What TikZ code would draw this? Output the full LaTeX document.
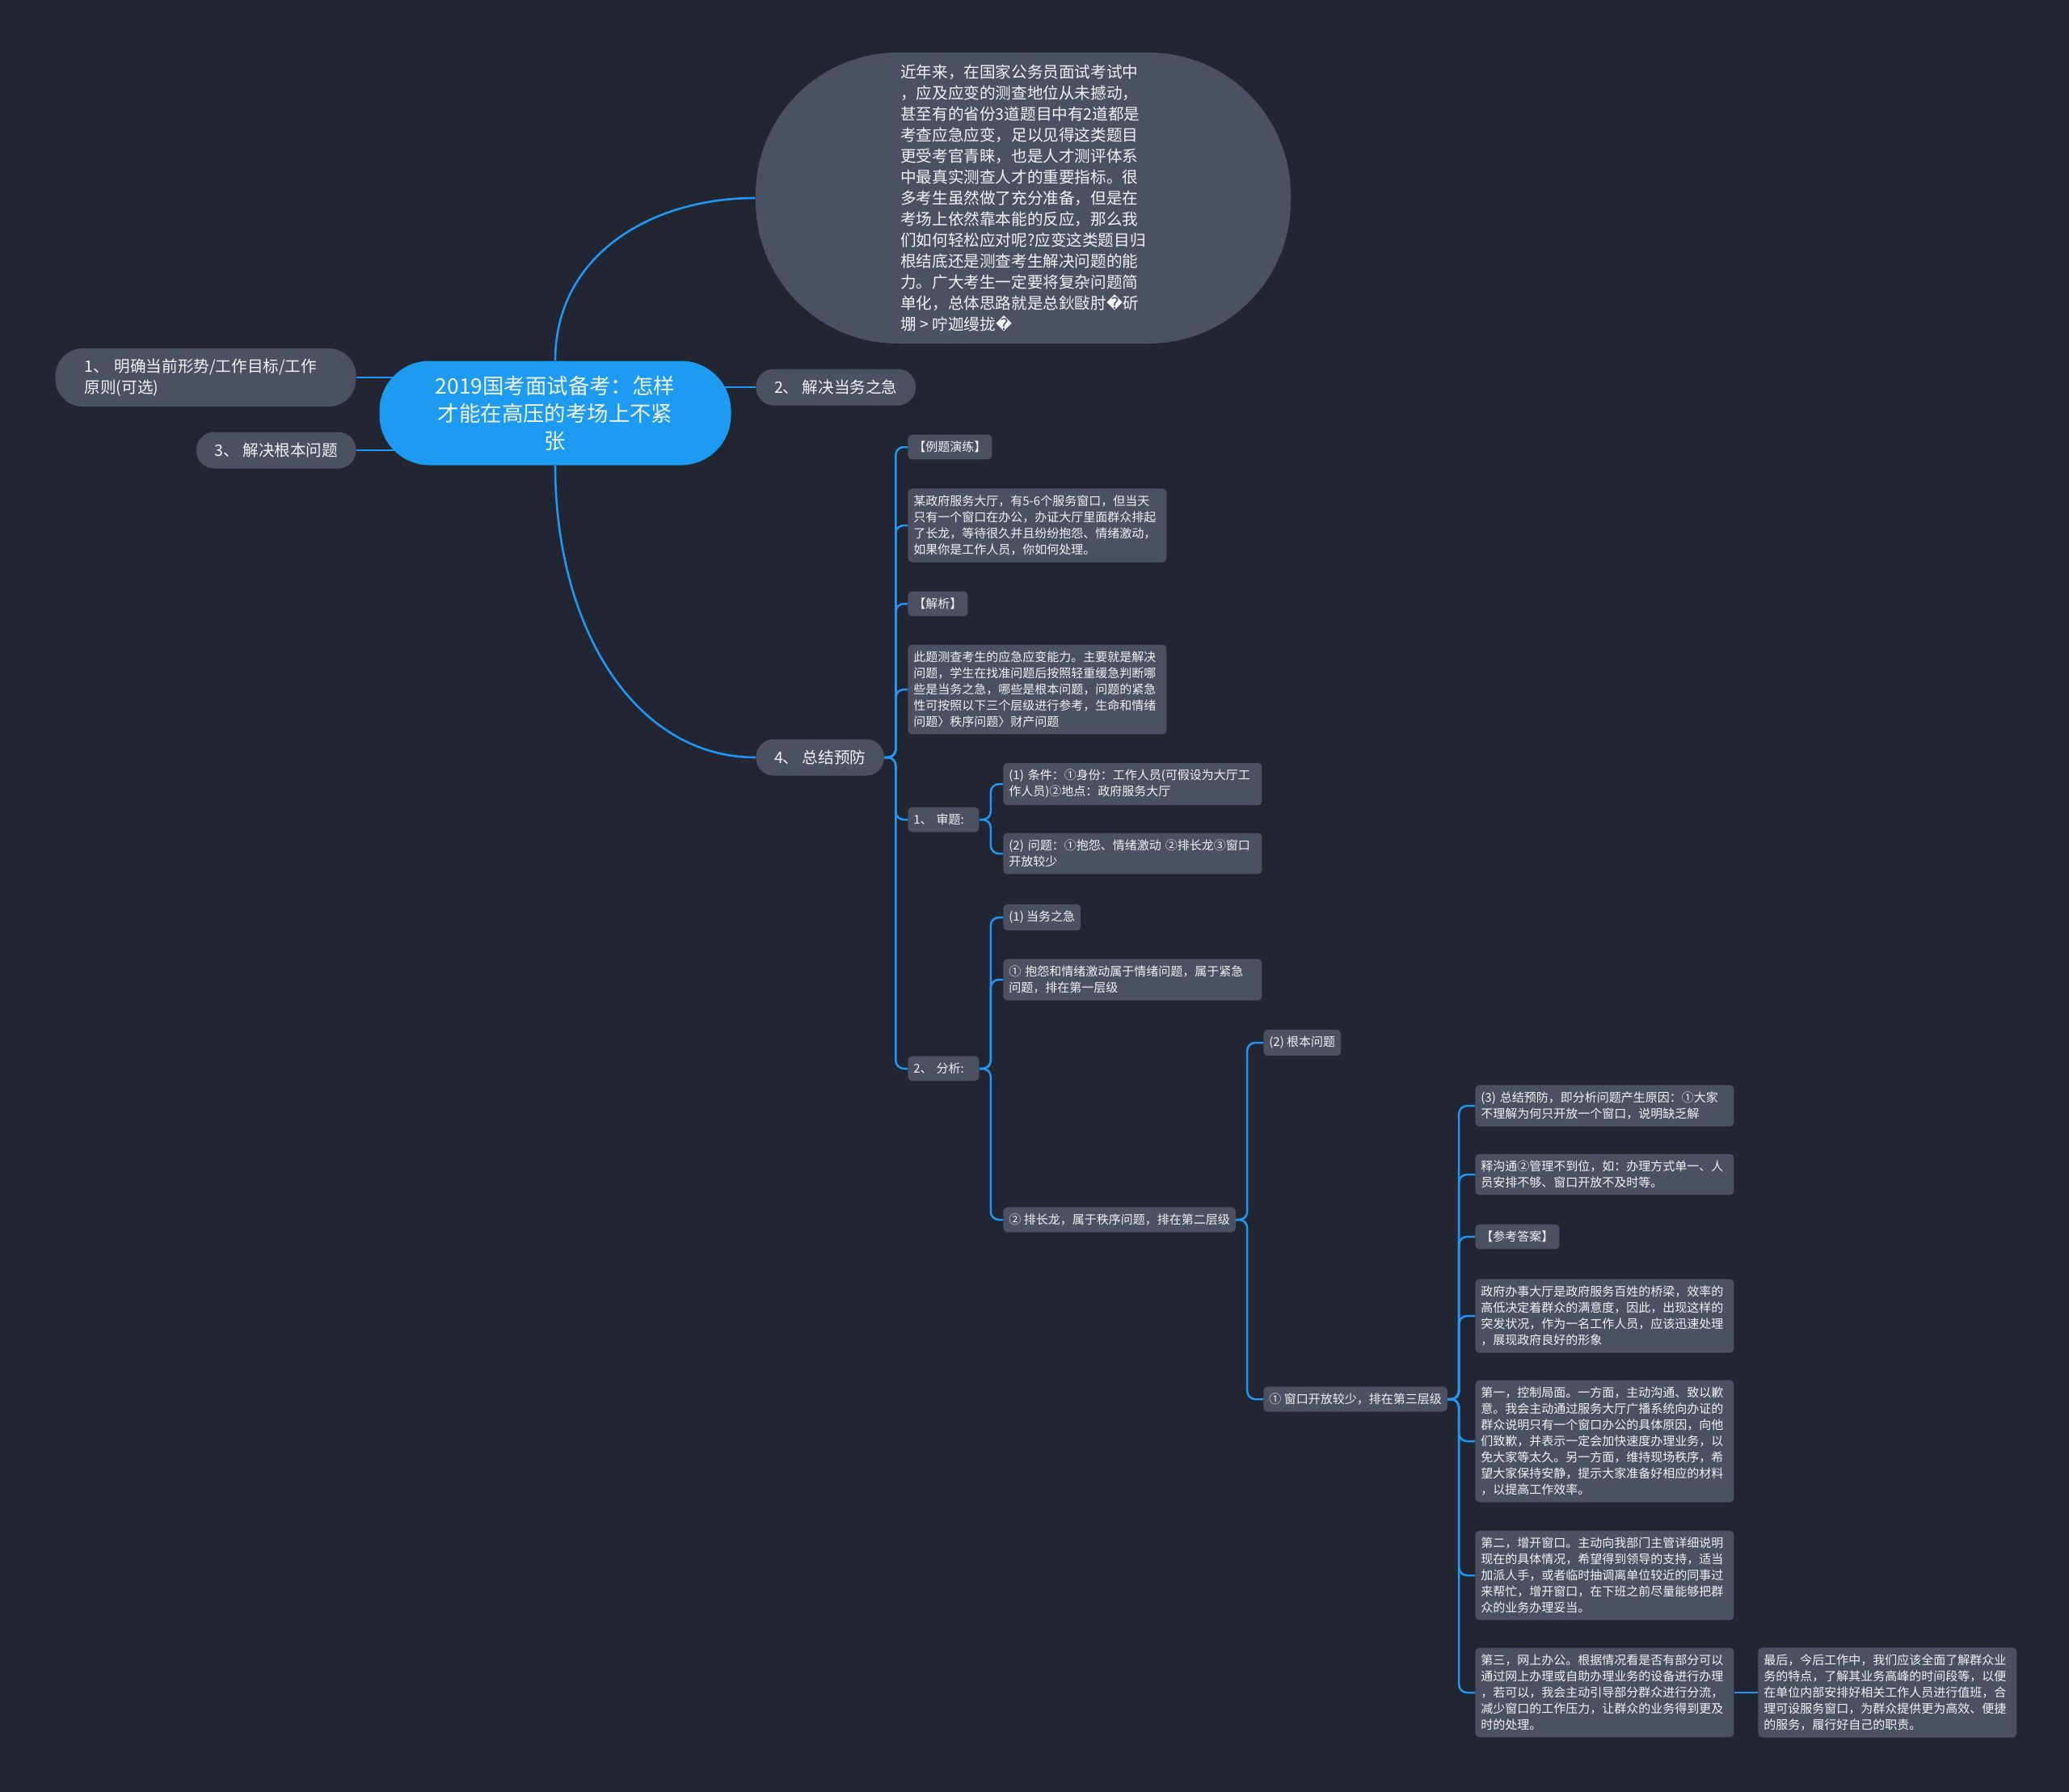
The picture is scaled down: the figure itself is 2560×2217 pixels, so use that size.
\documentclass[tikz,border=0pt]{standalone}
\usepackage{fontspec}
\setmainfont{Noto Sans CJK SC}
\newfontfamily\dejavu{DejaVu Sans}
\usetikzlibrary{backgrounds}
\definecolor{bgcol}{HTML}{222532}
\definecolor{nodegray}{HTML}{4B5162}
\definecolor{rootblue}{HTML}{1D9BF0}
\definecolor{linkblue}{HTML}{2196F3}
\definecolor{txtcol}{HTML}{F2F2F2}
\tikzset{
  every node/.style={text=txtcol},
  rootnode/.style={fill=rootblue, rounded corners=31pt, minimum width=217.5pt, minimum height=64.5pt, align=center, font=\fontsize{13.2}{17}\selectfont},
  intronode/.style={fill=nodegray, rounded corners=88pt, minimum width=331pt, minimum height=180pt, align=left, font=\fontsize{9.8}{13}\selectfont},
  topic/.style={fill=nodegray, rounded corners=11pt, inner xsep=11.3pt, minimum height=22.5pt, font=\fontsize{9.8}{13}\selectfont},
  leaf/.style={fill=nodegray, rounded corners=2.5pt, inner xsep=3.5pt, inner ysep=4.2pt, align=left, anchor=west, font=\fontsize{7.5}{10}\selectfont},
  wide/.style={leaf, text width=153pt},
  link/.style={draw=linkblue, line width=1.3pt},
  branch/.style={draw=linkblue, line width=1.25pt, rounded corners=5pt},
}
\begin{document}
\begin{tikzpicture}[x=0.5pt,y=-0.5pt]
  \useasboundingbox (0,0) rectangle (2560,2217);
  \node[rootnode] (root) at (687,511) {2019国考面试备考：怎样\\才能在高压的考场上不紧\\张};
  \node[intronode] (intro) at (1266,245) {近年来，在国家公务员面试考试中\\，应及应变的测查地位从未撼动，\\甚至有的省份3道题目中有2道都是\\考查应急应变，足以见得这类题目\\更受考官青睐，也是人才测评体系\\中最真实测查人才的重要指标。很\\多考生虽然做了充分准备，但是在\\考场上依然靠本能的反应，那么我\\们如何轻松应对呢?应变这类题目归\\根结底还是测查考生解决问题的能\\力。广大考生一定要将复杂问题简\\单化，总体思路就是总鈥敺肘{\dejavu �}斫\\堋 > 咛迦缦拢{\dejavu �}};
  \node[topic, anchor=east, align=left, text width=150pt, inner xsep=18pt, rounded corners=17pt, minimum height=36pt] (n1) at (441,467) {1、 明确当前形势/工作目标/工作\\原则(可选)};
  \node[topic, anchor=east] (n3) at (441,557) {3、 解决根本问题};
  \node[topic, anchor=west] (n2) at (935,479) {2、 解决当务之急};
  \node[topic, anchor=west] (n4) at (935,937) {4、 总结预防};

  \node[leaf] (a1) at (1123,553) {【例题演练】};
  \node[wide] (a2) at (1123,650) {某政府服务大厅，有5-6个服务窗口，但当天\\只有一个窗口在办公，办证大厅里面群众排起\\了长龙，等待很久并且纷纷抱怨、情绪激动，\\如果你是工作人员，你如何处理。};
  \node[leaf] (a3) at (1123,747) {【解析】};
  \node[wide] (a4) at (1123,853) {此题测查考生的应急应变能力。主要就是解决\\问题，学生在找准问题后按照轻重缓急判断哪\\些是当务之急，哪些是根本问题，问题的紧急\\性可按照以下三个层级进行参考，生命和情绪\\问题〉秩序问题〉财产问题};
  \node[leaf, text width=37pt] (a5) at (1123,1014) {1、 审题:};
  \node[leaf, text width=37pt] (a6) at (1123,1322) {2、 分析:};

  \node[wide] (b1) at (1241,970) {(1) 条件：①身份：工作人员(可假设为大厅工\\作人员)②地点：政府服务大厅};
  \node[wide] (b2) at (1241,1056) {(2) 问题：①抱怨、情绪激动 ②排长龙③窗口\\开放较少};

  \node[leaf] (c1) at (1241,1135) {(1) 当务之急};
  \node[wide] (c2) at (1241,1212) {① 抱怨和情绪激动属于情绪问题，属于紧急\\问题，排在第一层级};
  \node[leaf] (c3) at (1241,1509) {② 排长龙，属于秩序问题，排在第二层级};

  \node[leaf] (d1) at (1563,1290) {(2) 根本问题};
  \node[leaf] (d2) at (1563,1731) {① 窗口开放较少，排在第三层级};

  \node[wide] (e1) at (1825,1368) {(3) 总结预防，即分析问题产生原因：①大家\\不理解为何只开放一个窗口，说明缺乏解};
  \node[wide] (e2) at (1825,1453) {释沟通②管理不到位，如：办理方式单一、人\\员安排不够、窗口开放不及时等。};
  \node[leaf] (e3) at (1825,1530) {【参考答案】};
  \node[wide] (e4) at (1825,1628) {政府办事大厅是政府服务百姓的桥梁，效率的\\高低决定着群众的满意度，因此，出现这样的\\突发状况，作为一名工作人员，应该迅速处理\\，展现政府良好的形象};
  \node[wide] (e5) at (1825,1783) {第一，控制局面。一方面，主动沟通、致以歉\\意。我会主动通过服务大厅广播系统向办证的\\群众说明只有一个窗口办公的具体原因，向他\\们致歉，并表示一定会加快速度办理业务，以\\免大家等太久。另一方面，维持现场秩序，希\\望大家保持安静，提示大家准备好相应的材料\\，以提高工作效率。};
  \node[wide] (e6) at (1825,1949) {第二，增开窗口。主动向我部门主管详细说明\\现在的具体情况，希望得到领导的支持，适当\\加派人手，或者临时抽调离单位较近的同事过\\来帮忙，增开窗口，在下班之前尽量能够把群\\众的业务办理妥当。};
  \node[wide] (e7) at (1825,2094) {第三，网上办公。根据情况看是否有部分可以\\通过网上办理或自助办理业务的设备进行办理\\，若可以，我会主动引导部分群众进行分流，\\减少窗口的工作压力，让群众的业务得到更及\\时的处理。};
  \node[wide] (f1) at (2175,2094) {最后，今后工作中，我们应该全面了解群众业\\务的特点，了解其业务高峰的时间段等，以便\\在单位内部安排好相关工作人员进行值班，合\\理可设服务窗口，为群众提供更为高效、便捷\\的服务，履行好自己的职责。};

  \begin{scope}[on background layer]
    \fill[bgcol] (0,0) rectangle (2560,2217);
    \draw[link] (root.north) .. controls +(0,-130) and +(-130,0) .. (intro.west);
    \draw[link] (root.south) .. controls +(0,200) and +(-150,0) .. (n4.west);
    \draw[link] (root.center |- n2.west) -- (n2.west);
    \draw[link] (root.center |- n1.east) -- (n1.east);
    \draw[link] (root.center |- n3.east) -- (n3.east);
  \end{scope}
  \foreach \c in {a1,a2,a3,a4,a5,a6}
    \draw[branch] (n4.east) -- ++(7pt,0) |- (\c.west);
  \foreach \c in {b1,b2}
    \draw[branch] (a5.east) -- ++(7pt,0) |- (\c.west);
  \foreach \c in {c1,c2,c3}
    \draw[branch] (a6.east) -- ++(7pt,0) |- (\c.west);
  \foreach \c in {d1,d2}
    \draw[branch] (c3.east) -- ++(7pt,0) |- (\c.west);
  \foreach \c in {e1,e2,e3,e4,e5,e6,e7}
    \draw[branch] (d2.east) -- ++(7pt,0) |- (\c.west);
  \draw[branch] (e7.east) -- (f1.west);
\end{tikzpicture}
\end{document}
